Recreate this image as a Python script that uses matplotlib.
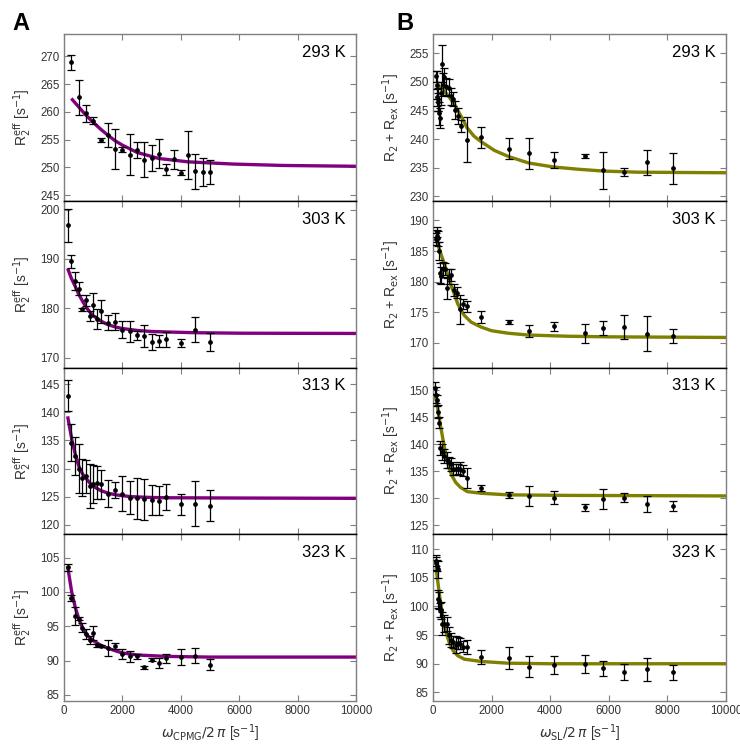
import numpy as np
import matplotlib
matplotlib.use('Agg')
import matplotlib.pyplot as plt

plt.rcParams['font.family'] = ['Liberation Sans', 'DejaVu Sans']
plt.rcParams['mathtext.fontset'] = 'dejavusans'

# ---- CPMG data (panel A) ----
cpmg_x1 = [250, 500, 750, 1000, 1250, 1500, 1750, 2000, 2250, 2500, 2750, 3000,
           3250, 3500, 3750, 4000, 4250, 4500, 4750, 5000]
cpmg_x = [125, 250, 375, 500, 625, 750, 875, 1000, 1125, 1250, 1500, 1750, 2000,
          2250, 2500, 2750, 3000, 3250, 3500, 4000, 4500, 5000]

a293_y = [268.9, 262.6, 259.7, 258.4, 254.9, 255.8, 253.3, 253.2, 252.3, 253.1, 251.4,
          251.7, 252.5, 249.7, 251.5, 249.0, 252.2, 249.3, 249.2, 249.2]
a293_err = [1.35, 3.2, 1.6, 0.6, 0.4, 2.1, 3.6, 0.4, 3.7, 1.4, 3.2, 2.4, 2.6, 1.0, 1.7,
            0.45, 4.3, 3.2, 2.5, 2.2]
a293_fit_x = [250, 500, 750, 1000, 1250, 1500, 1750, 2000, 2500, 3250, 4250, 5800, 7500, 10000]
a293_fit_y = [262.4, 260.9, 259.4, 258.1, 256.9, 255.8, 254.8, 254.0, 252.7, 251.6, 251.0,
              250.6, 250.35, 250.2]

a303_y = [196.8, 189.5, 185.6, 184.0, 179.8, 181.6, 178.4, 180.7, 177.9, 179.4, 177.1,
          177.3, 175.7, 175.3, 174.5, 174.4, 173.2, 173.3, 173.7, 173.0, 175.7, 173.2]
a303_err = [3.3, 1.4, 1.8, 1.3, 0.35, 1.1, 1.0, 2.3, 2.0, 2.3, 1.6, 1.7, 1.7, 2.2, 0.9,
            2.3, 1.6, 1.2, 1.5, 0.8, 2.5, 1.8]
a303_fit_x = [125, 250, 388, 500, 639, 750, 890, 1000, 1267, 1500, 1769, 2000, 2523, 3000,
              3516, 4500, 6100, 10000]
a303_fit_y = [188.1, 186.1, 184.4, 182.9, 181.4, 180.3, 179.2, 178.5, 177.4, 176.7, 176.2,
              175.9, 175.5, 175.3, 175.2, 175.05, 174.95, 174.9]

a313_y = [143.0, 134.6, 132.2, 130.0, 128.4, 128.6, 126.9, 127.2, 127.5, 127.2, 125.5,
          126.2, 125.5, 124.8, 124.7, 124.5, 124.4, 124.3, 124.9, 123.6, 123.7, 123.4]
a313_err = [2.75, 3.25, 3.4, 4.3, 3.3, 3.0, 3.9, 3.4, 2.9, 2.6, 2.4, 1.4, 3.1, 2.9, 3.7,
            3.6, 2.7, 2.6, 2.3, 1.8, 4.0, 2.8]
a313_fit_x = [125, 263, 388, 514, 640, 764, 890, 1017, 1250, 1518, 1800, 2272, 3000, 3516,
              6100, 10000]
a313_fit_y = [139.3, 135.3, 132.5, 130.3, 129.0, 128.2, 127.4, 126.8, 126.1, 125.6, 125.3,
              125.0, 124.85, 124.8, 124.75, 124.7]

a323_y = [103.6, 99.1, 96.5, 96.1, 94.8, 93.9, 93.0, 94.0, 92.2, 92.1, 91.8, 92.1, 91.0,
          90.6, 90.6, 89.0, 90.1, 89.6, 90.3, 90.5, 90.7, 89.4]
a323_err = [0.5, 0.5, 1.3, 0.2, 0.6, 0.7, 0.6, 1.05, 0.2, 0.2, 1.2, 0.45, 0.75, 0.85, 0.4,
            0.2, 0.2, 0.75, 0.6, 1.2, 1.1, 0.8]
a323_fit_x = [125, 263, 388, 514, 639, 750, 890, 1000, 1267, 1500, 1769, 2000, 2523, 3516,
              5000, 10000]
a323_fit_y = [103.7, 100.0, 97.7, 96.0, 94.7, 93.9, 93.3, 92.9, 92.2, 91.8, 91.4, 91.1,
              90.8, 90.6, 90.5, 90.5]

# ---- spin-lock data (panel B) ----
b293_x = [100, 120, 140, 160, 180, 200, 230, 260, 300, 340, 380, 450, 550, 620, 680, 760,
          860, 950, 1170, 1650, 2600, 3270, 4130, 5180, 5810, 6530, 7320, 8200]
b293_y = [251.0, 249.5, 247.3, 246.5, 247.0, 244.5, 243.7, 248.0, 253.2, 249.5, 250.9,
          249.2, 249.0, 247.5, 247.0, 245.1, 244.0, 242.3, 239.9, 240.3, 238.3, 237.5,
          236.3, 237.0, 234.5, 234.2, 235.9, 234.9]
b293_err = [1.0, 2.5, 1.5, 1.5, 2.0, 2.0, 1.8, 2.0, 3.2, 2.0, 1.5, 1.5, 1.5, 1.5, 1.2, 1.5,
            1.4, 1.0, 4.0, 1.9, 1.85, 2.7, 1.4, 0.35, 3.3, 0.65, 2.2, 2.7]
b293_fit_x = [100, 126, 250, 380, 500, 630, 750, 860, 1070, 1160, 1400, 1655, 2100, 2600,
              3273, 4128, 5000, 5814, 7000, 10000]
b293_fit_y = [249.4, 249.3, 248.9, 248.4, 247.7, 246.8, 245.9, 244.9, 242.9, 242.0, 240.5,
              239.5, 238.0, 236.9, 235.8, 235.1, 234.7, 234.4, 234.2, 234.1]

b303_x = [100, 120, 148, 171, 194, 228, 262, 331, 411, 479, 536, 604, 730, 821, 935, 1038,
          1170, 1650, 2600, 3270, 4130, 5180, 5810, 6530, 7320, 8200]
b303_y = [187.0, 187.5, 188.1, 187.1, 185.0, 181.4, 181.0, 182.0, 182.1, 178.9, 180.8,
          181.1, 178.7, 178.2, 175.5, 176.3, 176.0, 174.2, 173.4, 172.0, 172.7, 171.6,
          172.4, 172.6, 171.5, 171.1]
b303_err = [1.0, 1.0, 0.8, 1.2, 1.5, 1.6, 1.4, 1.2, 1.0, 1.7, 1.2, 1.0, 1.0, 0.9, 2.4, 0.8,
            0.9, 0.95, 0.35, 0.95, 0.75, 1.55, 1.15, 2.0, 2.85, 1.15]
b303_fit_x = [100, 137, 250, 388, 500, 638, 750, 843, 950, 1070, 1300, 1640, 2000, 2550,
              3240, 4600, 6000, 10000]
b303_fit_y = [187.0, 186.5, 184.8, 182.9, 181.2, 179.1, 177.7, 176.4, 175.4, 174.5, 173.4,
              172.6, 172.0, 171.6, 171.3, 171.1, 171.0, 170.9]

b313_x = [68, 103, 137, 183, 217, 251, 320, 388, 468, 537, 616, 684, 776, 845, 936, 1038,
          1170, 1650, 2600, 3270, 4130, 5180, 5810, 6530, 7320, 8200]
b313_y = [150.4, 149.1, 148.1, 146.0, 144.0, 139.2, 138.5, 137.8, 137.0, 136.6, 136.3,
          135.4, 135.3, 135.4, 135.4, 135.1, 133.8, 131.9, 130.5, 130.4, 130.1, 128.3,
          129.8, 130.1, 128.9, 128.6]
b313_err = [1.2, 1.5, 1.0, 1.2, 1.0, 1.3, 1.5, 1.3, 1.5, 1.0, 1.2, 1.2, 1.0, 1.0, 1.2, 1.0,
            1.85, 0.55, 0.55, 1.8, 1.2, 0.6, 1.85, 0.8, 1.5, 0.9]
b313_fit_x = [68, 137, 217, 320, 388, 468, 537, 650, 776, 936, 1170, 1640, 2550, 4600, 10000]
b313_fit_y = [149.0, 147.4, 144.6, 141.5, 139.4, 137.5, 135.8, 134.1, 132.9, 132.0, 131.2,
              130.9, 130.6, 130.5, 130.4]

b323_x = [103, 114, 137, 160, 183, 217, 251, 290, 320, 388, 468, 537, 616, 684, 776, 845,
          936, 1038, 1170, 1650, 2600, 3270, 4130, 5180, 5810, 6530, 7320, 8200]
b323_y = [108.0, 107.5, 107.1, 106.5, 101.3, 101.0, 99.4, 99.3, 97.0, 97.0, 96.9, 95.0,
          94.2, 93.8, 93.3, 93.6, 93.5, 93.0, 92.9, 91.2, 91.0, 89.5, 89.8, 90.0, 89.2,
          88.5, 89.0, 88.5]
b323_err = [1.0, 1.2, 1.0, 1.5, 1.5, 1.5, 1.2, 1.5, 2.0, 1.5, 1.2, 1.5, 1.2, 1.0, 1.5, 1.0,
            1.0, 1.0, 1.2, 1.2, 1.9, 1.8, 1.6, 1.6, 1.3, 1.4, 2.0, 1.3]
b323_fit_x = [103, 160, 217, 320, 388, 468, 560, 684, 845, 1070, 1640, 2550, 4000, 10000]
b323_fit_y = [106.8, 104.5, 102.2, 98.6, 96.5, 95.1, 93.6, 92.3, 91.4, 90.8, 90.4, 90.1,
              90.0, 90.0]

temps = ['293 K', '303 K', '313 K', '323 K']

panel_a = [
    (cpmg_x1, a293_y, a293_err, a293_fit_x, a293_fit_y, (244, 274), np.arange(245, 271, 5)),
    (cpmg_x, a303_y, a303_err, a303_fit_x, a303_fit_y, (168, 201.8), np.arange(170, 201, 10)),
    (cpmg_x, a313_y, a313_err, a313_fit_x, a313_fit_y, (118.3, 148), np.arange(120, 146, 5)),
    (cpmg_x, a323_y, a323_err, a323_fit_x, a323_fit_y, (84.1, 108.4), np.arange(85, 106, 5)),
]
panel_b = [
    (b293_x, b293_y, b293_err, b293_fit_x, b293_fit_y, (229.2, 258.4), np.arange(230, 256, 5)),
    (b303_x, b303_y, b303_err, b303_fit_x, b303_fit_y, (166, 193.2), np.arange(170, 191, 5)),
    (b313_x, b313_y, b313_err, b313_fit_x, b313_fit_y, (123.3, 154.2), np.arange(125, 151, 5)),
    (b323_x, b323_y, b323_err, b323_fit_x, b323_fit_y, (83.5, 112.6), np.arange(85, 111, 5)),
]

W, H = 740, 746
fig = plt.figure(figsize=(W / 100, H / 100), dpi=100)

frame = '#7f7f7f'
txt = '#333333'
top_px, bot_px = 34, 701
ph = (bot_px - top_px) / 4


def draw_column(panels, left_px, right_px, color, ylabel, xlabel, letter, letter_x):
    for i, (x, y, e, fx, fy, ylim, yt) in enumerate(panels):
        ax = fig.add_axes([left_px / W, (H - (top_px + (i + 1) * ph)) / H,
                           (right_px - left_px) / W, ph / H])
        ax.plot(fx, fy, color=color, lw=2.4, zorder=2, solid_capstyle='butt')
        ax.errorbar(x, y, yerr=e, fmt='o', ms=2.4, color='black', ecolor='black',
                    elinewidth=0.9, capsize=3, capthick=0.9, zorder=3)
        ax.set_xlim(0, 10000)
        ax.set_ylim(*ylim)
        ax.set_yticks(yt)
        ax.set_xticks(np.arange(0, 10001, 2000))
        ax.tick_params(direction='in', length=4, width=0.8, color=frame, labelcolor=txt,
                       labelsize=8.3, top=True, right=True, pad=3)
        for s in ax.spines.values():
            s.set_color(frame)
            s.set_linewidth(1.0)
        if i > 0:
            ax.spines['top'].set_color('black')
        if i < 3:
            ax.spines['bottom'].set_color('black')
            ax.tick_params(labelbottom=False)
        else:
            ax.set_xlabel(xlabel, fontsize=10, color=txt, labelpad=4)
        ax.set_ylabel(ylabel, fontsize=10, color=txt)
        ax.yaxis.set_label_coords(-0.105, 0.5)
        ax.text(0.965, 0.89, temps[i], transform=ax.transAxes, ha='right', va='center',
                fontsize=12, color='black')
    fig.text(letter_x / W, 1 - 24 / H, letter, fontsize=17, fontweight='bold',
             ha='left', va='center')


draw_column(panel_a, 64, 356, '#800080', r'R$_2^{\rm eff}$ [s$^{-1}$]',
            r'$\omega_{\rm CPMG}/2\,\pi$ [s$^{-1}$]', 'A', 12)
draw_column(panel_b, 433, 726, '#7f7f00', r'R$_2$ + R$_{\rm ex}$ [s$^{-1}$]',
            r'$\omega_{\rm SL}/2\,\pi$ [s$^{-1}$]', 'B', 396)

fig.savefig('out.png', dpi=100)
